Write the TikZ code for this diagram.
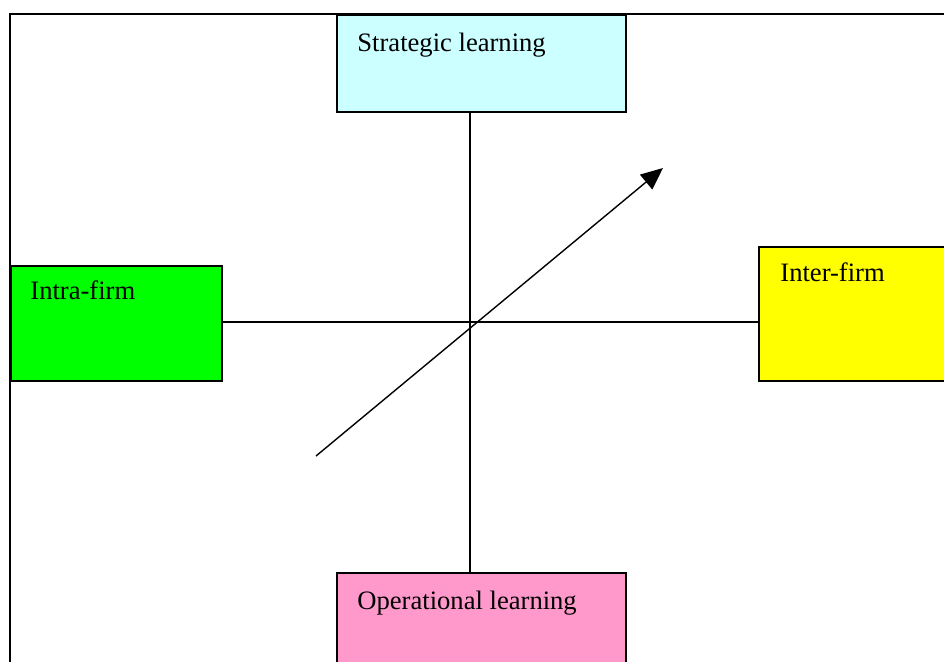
\documentclass[tikz,border=0pt]{standalone}
\usepackage{fontspec}
\setmainfont{Liberation Serif}
\usepackage{xcolor}
\usepackage{tikz}
\usetikzlibrary{arrows.meta,positioning}

\definecolor{stratcol}{HTML}{CCFFFF}
\definecolor{intracol}{HTML}{00FF00}
\definecolor{intercol}{HTML}{FFFF00}
\definecolor{opercol}{HTML}{FF99CC}

\tikzset{
    learnbox/.style={draw, line width=0.8pt, inner sep=0pt, anchor=north west},
    boxtext/.style={anchor=base west, inner sep=0pt, font=\fontsize{13.3}{16}\selectfont},
    axisline/.style={line width=0.6pt},
    arrowline/.style={line width=0.7pt, -{Triangle[length=11pt,width=9.5pt]}}
}

\begin{document}
\begin{tikzpicture}[x=0.5pt, y=-0.5pt]
    \useasboundingbox (0,0) rectangle (944,661);
    \clip (0,0) rectangle (944,661);
    % outer frame
    \draw[line width=1pt] (10,14) rectangle (980,700);

    \node[learnbox, fill=stratcol, minimum width=144.5pt, minimum height=48.5pt] (strat) at (336,14) {};
    \node[learnbox, fill=intracol, minimum width=105.5pt, minimum height=57.5pt] (intra) at (10,265) {};
    \node[learnbox, fill=intercol, minimum width=100pt, minimum height=67pt] (inter) at (758,246) {};
    \node[learnbox, fill=opercol, minimum width=144.5pt, minimum height=55pt] (oper) at (336,572) {};

    \node[boxtext] (strattext) at ([shift={(10.5pt,-18.5pt)}]strat.north west) {Strategic learning};
    \node[boxtext] (intratext) at ([shift={(10pt,-17pt)}]intra.north west) {Intra-firm};
    \node[boxtext] (intertext) at ([shift={(11pt,-17.5pt)}]inter.north west) {Inter-firm};
    \node[boxtext] (opertext) at ([shift={(10.5pt,-18.5pt)}]oper.north west) {Operational learning};

    % axes
    \coordinate (cross) at (470,322);
    \draw[axisline] (strat.south -| cross) -- (oper.north -| cross);
    \draw[axisline] (intra.east |- cross) -- (inter.west |- cross);

    \coordinate (arrstart) at (316,456);
    \coordinate (arrend) at (663,168);
    \draw[arrowline] (arrstart) -- (arrend);
\end{tikzpicture}
\end{document}
